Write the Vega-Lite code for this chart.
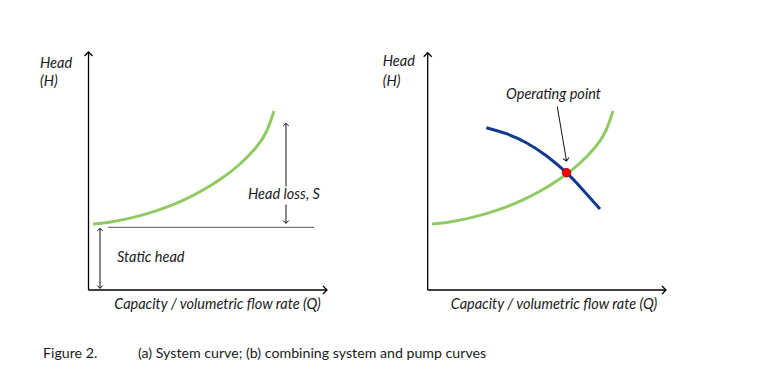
{
  "$schema": "https://vega.github.io/schema/vega-lite/v6.json",
  "width": 757,
  "height": 385,
  "autosize": {"type": "fit", "contains": "padding"},
  "padding": 0,
  "background": "white",
  "config": {"view": {"stroke": null}},
  "datasets": {
    "curves": [
      {"series": "system_a", "q": 93, "h": 224},
      {"series": "system_a", "q": 108, "h": 222.4},
      {"series": "system_a", "q": 128, "h": 218.6},
      {"series": "system_a", "q": 148, "h": 213.4},
      {"series": "system_a", "q": 168, "h": 206.6},
      {"series": "system_a", "q": 184, "h": 199.8},
      {"series": "system_a", "q": 200, "h": 191.8},
      {"series": "system_a", "q": 220, "h": 179.6},
      {"series": "system_a", "q": 240, "h": 164},
      {"series": "system_a", "q": 256, "h": 147.5},
      {"series": "system_a", "q": 266.5, "h": 131.5},
      {"series": "system_a", "q": 274, "h": 111},
      {"series": "system_b", "q": 432, "h": 224},
      {"series": "system_b", "q": 447, "h": 222.4},
      {"series": "system_b", "q": 467, "h": 218.6},
      {"series": "system_b", "q": 487, "h": 213.4},
      {"series": "system_b", "q": 507, "h": 206.6},
      {"series": "system_b", "q": 523, "h": 199.8},
      {"series": "system_b", "q": 539, "h": 191.8},
      {"series": "system_b", "q": 559, "h": 179.6},
      {"series": "system_b", "q": 579, "h": 164},
      {"series": "system_b", "q": 595, "h": 147.5},
      {"series": "system_b", "q": 605.5, "h": 131.5},
      {"series": "system_b", "q": 613, "h": 111},
      {"series": "pump", "q": 486.3, "h": 127.7},
      {"series": "pump", "q": 506.3, "h": 133.7},
      {"series": "pump", "q": 526.3, "h": 142.7},
      {"series": "pump", "q": 546.3, "h": 155.7},
      {"series": "pump", "q": 566.5, "h": 172.7},
      {"series": "pump", "q": 583, "h": 190},
      {"series": "pump", "q": 600, "h": 209}
    ],
    "segments": [
      {"kind": "axis", "x": 88.5, "y": 52, "x2": 88.5, "y2": 290},
      {"kind": "axis", "x": 88.5, "y": 290, "x2": 327, "y2": 290},
      {"kind": "axis", "x": 427.7, "y": 52.7, "x2": 427.7, "y2": 290},
      {"kind": "axis", "x": 427.7, "y": 290, "x2": 666, "y2": 290},
      {"kind": "base", "x": 108, "y": 227.3, "x2": 314, "y2": 227.3},
      {"kind": "dim", "x": 286, "y": 123.3, "x2": 286, "y2": 186.5},
      {"kind": "dim", "x": 286, "y": 204.5, "x2": 286, "y2": 223.3},
      {"kind": "dim", "x": 100, "y": 228.3, "x2": 100, "y2": 288.3},
      {"kind": "dim", "x": 557.3, "y": 106.7, "x2": 566.5, "y2": 161}
    ],
    "heads": [
      {"kind": "axis", "dir": "up", "x": 88.5, "y": 52},
      {"kind": "axis", "dir": "right", "x": 327, "y": 290},
      {"kind": "axis", "dir": "up", "x": 427.7, "y": 52.7},
      {"kind": "axis", "dir": "right", "x": 666, "y": 290},
      {"kind": "dim", "dir": "up", "x": 286, "y": 123.3},
      {"kind": "dim", "dir": "down", "x": 286, "y": 223.3},
      {"kind": "dim", "dir": "up", "x": 100, "y": 228.3},
      {"kind": "dim", "dir": "down", "x": 100, "y": 288.3},
      {"kind": "pointer", "dir": "down", "x": 566.5, "y": 161}
    ],
    "points": [
      {"q": 566.5, "h": 172.7}
    ],
    "labels": [
      {"role": "left", "text": "Head", "x": 40, "y": 64},
      {"role": "left", "text": "(H)", "x": 40, "y": 82},
      {"role": "left", "text": "Head", "x": 382.7, "y": 62},
      {"role": "left", "text": "(H)", "x": 382.7, "y": 82},
      {"role": "left", "text": "Static head", "x": 117, "y": 258},
      {"role": "center", "text": "Head loss, S", "x": 284, "y": 195},
      {"role": "center", "text": "Capacity / volumetric flow rate (Q)", "x": 217.5, "y": 305},
      {"role": "center", "text": "Capacity / volumetric flow rate (Q)", "x": 554, "y": 305},
      {"role": "center", "text": "Operating point", "x": 553.5, "y": 95},
      {"role": "caption", "text": "Figure 2.", "x": 43, "y": 354},
      {"role": "caption", "text": "(a) System curve; (b) combining system and pump curves", "x": 138, "y": 354}
    ]
  },
  "layer": [
    {
      "data": {"name": "segments"},
      "transform": [{"filter": "datum.kind === 'axis'"}],
      "mark": {"type": "rule", "color": "#000000", "strokeWidth": 1.3},
      "encoding": {
        "x": {"field": "x", "type": "quantitative", "scale": {"domain": [0, 757], "nice": false, "zero": false}, "axis": null},
        "y": {"field": "y", "type": "quantitative", "scale": {"domain": [0, 385], "nice": false, "zero": false, "reverse": true}, "axis": null},
        "x2": {"field": "x2"},
        "y2": {"field": "y2"}
      }
    },
    {
      "data": {"name": "segments"},
      "transform": [{"filter": "datum.kind === 'base'"}],
      "mark": {"type": "rule", "color": "#555555", "strokeWidth": 1},
      "encoding": {
        "x": {"field": "x", "type": "quantitative"},
        "y": {"field": "y", "type": "quantitative"},
        "x2": {"field": "x2"},
        "y2": {"field": "y2"}
      }
    },
    {
      "data": {"name": "segments"},
      "transform": [{"filter": "datum.kind === 'dim'"}],
      "mark": {"type": "rule", "color": "#111111", "strokeWidth": 1},
      "encoding": {
        "x": {"field": "x", "type": "quantitative"},
        "y": {"field": "y", "type": "quantitative"},
        "x2": {"field": "x2"},
        "y2": {"field": "y2"}
      }
    },
    {
      "data": {"name": "curves"},
      "mark": {"type": "line", "strokeWidth": 3, "interpolate": "natural", "strokeCap": "butt"},
      "encoding": {
        "x": {"field": "q", "type": "quantitative"},
        "y": {"field": "h", "type": "quantitative"},
        "detail": {"field": "series"},
        "color": {"field": "series", "type": "nominal", "scale": {"domain": ["system_a", "system_b", "pump"], "range": ["#8FCB62", "#8FCB62", "#123A8C"]}, "legend": null}
      }
    },
    {
      "data": {"name": "heads"},
      "transform": [{"filter": "datum.kind === 'axis' && datum.dir === 'up'"}],
      "mark": {"type": "point", "shape": "M-1,1L0,0L1,1", "size": 64, "filled": false, "stroke": "#000000", "strokeWidth": 1.3, "opacity": 1},
      "encoding": {"x": {"field": "x", "type": "quantitative"}, "y": {"field": "y", "type": "quantitative"}}
    },
    {
      "data": {"name": "heads"},
      "transform": [{"filter": "datum.kind === 'axis' && datum.dir === 'right'"}],
      "mark": {"type": "point", "shape": "M-1,-1L0,0L-1,1", "size": 64, "filled": false, "stroke": "#000000", "strokeWidth": 1.3, "opacity": 1},
      "encoding": {"x": {"field": "x", "type": "quantitative"}, "y": {"field": "y", "type": "quantitative"}}
    },
    {
      "data": {"name": "heads"},
      "transform": [{"filter": "datum.kind === 'dim' && datum.dir === 'up'"}],
      "mark": {"type": "point", "shape": "M-1,1L0,0L1,1", "size": 30, "filled": false, "stroke": "#111111", "strokeWidth": 1, "opacity": 1},
      "encoding": {"x": {"field": "x", "type": "quantitative"}, "y": {"field": "y", "type": "quantitative"}}
    },
    {
      "data": {"name": "heads"},
      "transform": [{"filter": "datum.kind === 'dim' && datum.dir === 'down'"}],
      "mark": {"type": "point", "shape": "M-1,-1L0,0L1,-1", "size": 30, "filled": false, "stroke": "#111111", "strokeWidth": 1, "opacity": 1},
      "encoding": {"x": {"field": "x", "type": "quantitative"}, "y": {"field": "y", "type": "quantitative"}}
    },
    {
      "data": {"name": "heads"},
      "transform": [{"filter": "datum.kind === 'pointer'"}],
      "mark": {"type": "point", "shape": "M-1,-1L0,0L1,-1", "size": 36, "angle": -10, "filled": false, "stroke": "#111111", "strokeWidth": 1, "opacity": 1},
      "encoding": {"x": {"field": "x", "type": "quantitative"}, "y": {"field": "y", "type": "quantitative"}}
    },
    {
      "data": {"name": "points"},
      "mark": {"type": "point", "shape": "circle", "size": 72, "filled": true, "fill": "#FF0000", "stroke": "#B00000", "strokeWidth": 1, "opacity": 1},
      "encoding": {"x": {"field": "q", "type": "quantitative"}, "y": {"field": "h", "type": "quantitative"}}
    },
    {
      "data": {"name": "labels"},
      "transform": [{"filter": "datum.role === 'left'"}],
      "mark": {"type": "text", "align": "left", "baseline": "middle", "font": "Lato", "fontStyle": "italic", "fontSize": 14.5, "color": "#1a1a1a"},
      "encoding": {"x": {"field": "x", "type": "quantitative"}, "y": {"field": "y", "type": "quantitative"}, "text": {"field": "text"}}
    },
    {
      "data": {"name": "labels"},
      "transform": [{"filter": "datum.role === 'center'"}],
      "mark": {"type": "text", "align": "center", "baseline": "middle", "font": "Lato", "fontStyle": "italic", "fontSize": 14.5, "color": "#1a1a1a"},
      "encoding": {"x": {"field": "x", "type": "quantitative"}, "y": {"field": "y", "type": "quantitative"}, "text": {"field": "text"}}
    },
    {
      "data": {"name": "labels"},
      "transform": [{"filter": "datum.role === 'caption'"}],
      "mark": {"type": "text", "align": "left", "baseline": "middle", "font": "Lato", "fontSize": 14.2, "color": "#1a1a1a"},
      "encoding": {"x": {"field": "x", "type": "quantitative"}, "y": {"field": "y", "type": "quantitative"}, "text": {"field": "text"}}
    }
  ]
}
